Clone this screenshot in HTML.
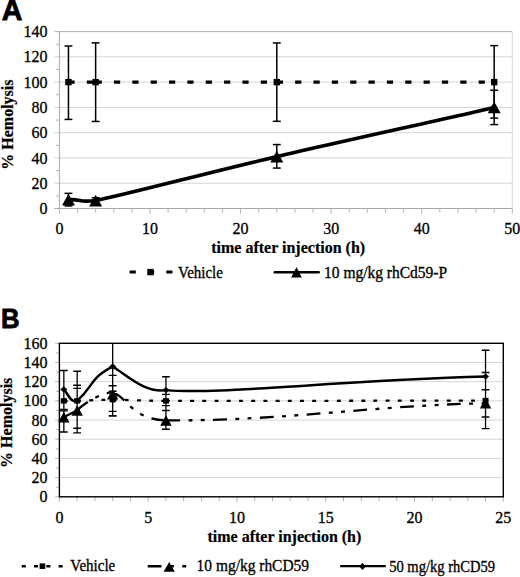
<!DOCTYPE html>
<html><head><meta charset="utf-8"><style>
html,body{margin:0;padding:0;background:#fff;}
body{width:520px;height:577px;overflow:hidden;}
svg{display:block;}
.lab{font-family:"Liberation Serif",serif;font-size:16px;fill:#000;stroke:#000;stroke-width:0.3px;}
.ttl{font-family:"Liberation Serif",serif;font-size:16px;font-weight:bold;fill:#000;stroke:#000;stroke-width:0.2px;}
.leg{font-family:"Liberation Serif",serif;font-size:15px;fill:#000;stroke:#000;stroke-width:0.3px;}
.pl{font-family:"Liberation Sans",sans-serif;font-size:28px;font-weight:bold;fill:#000;stroke:#000;stroke-width:0.8px;}
</style></head><body>
<svg width="520" height="577" viewBox="0 0 520 577">
<defs><clipPath id="cb"><rect x="59.4" y="343.3" width="443.9" height="153.5"/></clipPath></defs>
<text x="1.7" y="20.0" class="pl" style="font-size:28.6px">A</text>
<text transform="translate(0.9,328.1) scale(0.92,0.98)" class="pl">B</text>
<line x1="54.4" y1="183.23" x2="512.3" y2="183.23" stroke="#d4d4d4" stroke-width="1"/>
<line x1="54.4" y1="157.96" x2="512.3" y2="157.96" stroke="#d4d4d4" stroke-width="1"/>
<line x1="54.4" y1="132.69" x2="512.3" y2="132.69" stroke="#d4d4d4" stroke-width="1"/>
<line x1="54.4" y1="107.41" x2="512.3" y2="107.41" stroke="#d4d4d4" stroke-width="1"/>
<line x1="54.4" y1="82.14" x2="512.3" y2="82.14" stroke="#d4d4d4" stroke-width="1"/>
<line x1="54.4" y1="56.87" x2="512.3" y2="56.87" stroke="#d4d4d4" stroke-width="1"/>
<line x1="54.4" y1="31.6" x2="512.3" y2="31.6" stroke="#b0b0b0" stroke-width="1"/>
<line x1="56" y1="195.86" x2="59.4" y2="195.86" stroke="#b4b4b4" stroke-width="1"/>
<line x1="56" y1="170.59" x2="59.4" y2="170.59" stroke="#b4b4b4" stroke-width="1"/>
<line x1="56" y1="145.32" x2="59.4" y2="145.32" stroke="#b4b4b4" stroke-width="1"/>
<line x1="56" y1="120.05" x2="59.4" y2="120.05" stroke="#b4b4b4" stroke-width="1"/>
<line x1="56" y1="94.78" x2="59.4" y2="94.78" stroke="#b4b4b4" stroke-width="1"/>
<line x1="56" y1="69.51" x2="59.4" y2="69.51" stroke="#b4b4b4" stroke-width="1"/>
<line x1="56" y1="44.24" x2="59.4" y2="44.24" stroke="#b4b4b4" stroke-width="1"/>
<line x1="512.3" y1="31.6" x2="512.3" y2="208.5" stroke="#d4d4d4" stroke-width="1"/>
<line x1="59.4" y1="31.6" x2="59.4" y2="208.5" stroke="#a8a8a8" stroke-width="1"/>
<line x1="54.4" y1="208.5" x2="512.3" y2="208.5" stroke="#a8a8a8" stroke-width="1"/>
<line x1="59.4" y1="208.5" x2="59.4" y2="213.7" stroke="#b4b4b4" stroke-width="1"/>
<line x1="77.52" y1="208.5" x2="77.52" y2="212.7" stroke="#b4b4b4" stroke-width="1"/>
<line x1="95.63" y1="208.5" x2="95.63" y2="212.7" stroke="#b4b4b4" stroke-width="1"/>
<line x1="113.75" y1="208.5" x2="113.75" y2="212.7" stroke="#b4b4b4" stroke-width="1"/>
<line x1="131.86" y1="208.5" x2="131.86" y2="212.7" stroke="#b4b4b4" stroke-width="1"/>
<line x1="149.98" y1="208.5" x2="149.98" y2="213.7" stroke="#b4b4b4" stroke-width="1"/>
<line x1="168.1" y1="208.5" x2="168.1" y2="212.7" stroke="#b4b4b4" stroke-width="1"/>
<line x1="186.21" y1="208.5" x2="186.21" y2="212.7" stroke="#b4b4b4" stroke-width="1"/>
<line x1="204.33" y1="208.5" x2="204.33" y2="212.7" stroke="#b4b4b4" stroke-width="1"/>
<line x1="222.44" y1="208.5" x2="222.44" y2="212.7" stroke="#b4b4b4" stroke-width="1"/>
<line x1="240.56" y1="208.5" x2="240.56" y2="213.7" stroke="#b4b4b4" stroke-width="1"/>
<line x1="258.68" y1="208.5" x2="258.68" y2="212.7" stroke="#b4b4b4" stroke-width="1"/>
<line x1="276.79" y1="208.5" x2="276.79" y2="212.7" stroke="#b4b4b4" stroke-width="1"/>
<line x1="294.91" y1="208.5" x2="294.91" y2="212.7" stroke="#b4b4b4" stroke-width="1"/>
<line x1="313.02" y1="208.5" x2="313.02" y2="212.7" stroke="#b4b4b4" stroke-width="1"/>
<line x1="331.14" y1="208.5" x2="331.14" y2="213.7" stroke="#b4b4b4" stroke-width="1"/>
<line x1="349.26" y1="208.5" x2="349.26" y2="212.7" stroke="#b4b4b4" stroke-width="1"/>
<line x1="367.37" y1="208.5" x2="367.37" y2="212.7" stroke="#b4b4b4" stroke-width="1"/>
<line x1="385.49" y1="208.5" x2="385.49" y2="212.7" stroke="#b4b4b4" stroke-width="1"/>
<line x1="403.6" y1="208.5" x2="403.6" y2="212.7" stroke="#b4b4b4" stroke-width="1"/>
<line x1="421.72" y1="208.5" x2="421.72" y2="213.7" stroke="#b4b4b4" stroke-width="1"/>
<line x1="439.84" y1="208.5" x2="439.84" y2="212.7" stroke="#b4b4b4" stroke-width="1"/>
<line x1="457.95" y1="208.5" x2="457.95" y2="212.7" stroke="#b4b4b4" stroke-width="1"/>
<line x1="476.07" y1="208.5" x2="476.07" y2="212.7" stroke="#b4b4b4" stroke-width="1"/>
<line x1="494.18" y1="208.5" x2="494.18" y2="212.7" stroke="#b4b4b4" stroke-width="1"/>
<line x1="512.3" y1="208.5" x2="512.3" y2="213.7" stroke="#b4b4b4" stroke-width="1"/>
<text transform="translate(47.5,214.1) scale(1,1.1)" text-anchor="end" class="lab">0</text>
<text transform="translate(47.5,188.83) scale(1,1.1)" text-anchor="end" class="lab">20</text>
<text transform="translate(47.5,163.56) scale(1,1.1)" text-anchor="end" class="lab">40</text>
<text transform="translate(47.5,138.29) scale(1,1.1)" text-anchor="end" class="lab">60</text>
<text transform="translate(47.5,113.01) scale(1,1.1)" text-anchor="end" class="lab">80</text>
<text transform="translate(47.5,87.74) scale(1,1.1)" text-anchor="end" class="lab">100</text>
<text transform="translate(47.5,62.47) scale(1,1.1)" text-anchor="end" class="lab">120</text>
<text transform="translate(47.5,37.2) scale(1,1.1)" text-anchor="end" class="lab">140</text>
<text transform="translate(59.4,234.2) scale(1,1.1)" text-anchor="middle" class="lab">0</text>
<text transform="translate(149.98,234.2) scale(1,1.1)" text-anchor="middle" class="lab">10</text>
<text transform="translate(240.56,234.2) scale(1,1.1)" text-anchor="middle" class="lab">20</text>
<text transform="translate(331.14,234.2) scale(1,1.1)" text-anchor="middle" class="lab">30</text>
<text transform="translate(421.72,234.2) scale(1,1.1)" text-anchor="middle" class="lab">40</text>
<text transform="translate(512.3,234.2) scale(1,1.1)" text-anchor="middle" class="lab">50</text>
<line x1="68.46" y1="46" x2="68.46" y2="119.42" stroke="#000" stroke-width="1.5"/><line x1="64.51" y1="46" x2="72.41" y2="46" stroke="#000" stroke-width="1.5"/><line x1="64.51" y1="119.42" x2="72.41" y2="119.42" stroke="#000" stroke-width="1.5"/>
<line x1="95.63" y1="42.85" x2="95.63" y2="121.44" stroke="#000" stroke-width="1.5"/><line x1="91.68" y1="42.85" x2="99.58" y2="42.85" stroke="#000" stroke-width="1.5"/><line x1="91.68" y1="121.44" x2="99.58" y2="121.44" stroke="#000" stroke-width="1.5"/>
<line x1="276.79" y1="42.97" x2="276.79" y2="121.31" stroke="#000" stroke-width="1.5"/><line x1="272.84" y1="42.97" x2="280.74" y2="42.97" stroke="#000" stroke-width="1.5"/><line x1="272.84" y1="121.31" x2="280.74" y2="121.31" stroke="#000" stroke-width="1.5"/>
<line x1="494.18" y1="45.63" x2="494.18" y2="118.15" stroke="#000" stroke-width="1.5"/><line x1="490.23" y1="45.63" x2="498.13" y2="45.63" stroke="#000" stroke-width="1.5"/><line x1="490.23" y1="118.15" x2="498.13" y2="118.15" stroke="#000" stroke-width="1.5"/>
<line x1="68.46" y1="193.34" x2="68.46" y2="205.97" stroke="#000" stroke-width="1.5"/><line x1="64.51" y1="193.34" x2="72.41" y2="193.34" stroke="#000" stroke-width="1.5"/><line x1="64.51" y1="205.97" x2="72.41" y2="205.97" stroke="#000" stroke-width="1.5"/>
<line x1="95.63" y1="197.76" x2="95.63" y2="204.08" stroke="#000" stroke-width="1.5"/><line x1="91.68" y1="197.76" x2="99.58" y2="197.76" stroke="#000" stroke-width="1.5"/><line x1="91.68" y1="204.08" x2="99.58" y2="204.08" stroke="#000" stroke-width="1.5"/>
<line x1="276.79" y1="144.56" x2="276.79" y2="168.07" stroke="#000" stroke-width="1.5"/><line x1="272.84" y1="144.56" x2="280.74" y2="144.56" stroke="#000" stroke-width="1.5"/><line x1="272.84" y1="168.07" x2="280.74" y2="168.07" stroke="#000" stroke-width="1.5"/>
<line x1="494.18" y1="90.23" x2="494.18" y2="124.6" stroke="#000" stroke-width="1.5"/><line x1="490.23" y1="90.23" x2="498.13" y2="90.23" stroke="#000" stroke-width="1.5"/><line x1="490.23" y1="124.6" x2="498.13" y2="124.6" stroke="#000" stroke-width="1.5"/>
<line x1="68.46" y1="82.14" x2="95.63" y2="82.14" stroke="#000" stroke-width="3.2" stroke-dasharray="6.2 12.15"/>
<line x1="95.63" y1="82.14" x2="276.79" y2="82.14" stroke="#000" stroke-width="3.2" stroke-dasharray="6.2 12.15"/>
<line x1="276.79" y1="82.14" x2="494.18" y2="82.14" stroke="#000" stroke-width="3.2" stroke-dasharray="6.2 12.15"/>
<path d="M68.46,199.66 C83.48,199.27 76.81,202.66 95.63,200.54 C126.21,194.57 216.04,170.47 276.79,156.69 C307.93,148.82 462.13,115.13 494.18,107.41" fill="none" stroke="#000" stroke-width="3.6" stroke-linejoin="round"/>
<rect x="65.26" y="78.94" width="6.4" height="6.4" fill="#000"/>
<rect x="92.43" y="78.94" width="6.4" height="6.4" fill="#000"/>
<rect x="273.59" y="78.94" width="6.4" height="6.4" fill="#000"/>
<rect x="490.98" y="78.94" width="6.4" height="6.4" fill="#000"/>
<path d="M68.46,193.75 L74.96,205.56 L61.96,205.56Z" fill="#000"/>
<path d="M95.63,194.64 L102.13,206.44 L89.13,206.44Z" fill="#000"/>
<path d="M276.79,150.79 L283.29,162.59 L270.29,162.59Z" fill="#000"/>
<path d="M494.18,101.51 L500.68,113.31 L487.68,113.31Z" fill="#000"/>
<text x="288.2" y="253.1" text-anchor="middle" class="ttl">time after injection (h)</text>
<text transform="translate(13.3,124.6) rotate(-90)" text-anchor="middle" class="ttl">% Hemolysis</text>
<line x1="129.6" y1="272.1" x2="172.4" y2="272.1" stroke="#000" stroke-width="3" stroke-dasharray="6.2 12.15"/>
<rect x="147.3" y="268.9" width="6.4" height="6.4" fill="#000"/>
<text transform="translate(178,277.6) scale(1,1.07)" class="leg">Vehicle</text>
<line x1="274.8" y1="272.2" x2="318.6" y2="272.2" stroke="#000" stroke-width="2.6" stroke-linecap="round"/><path d="M296.5,267.1 L301.8,277.5 L291.2,277.5Z" fill="#000"/><text transform="translate(324,277.5) scale(1.035,1.07)" class="leg">10 mg/kg rhCd59-P</text>
<line x1="59.4" y1="477.61" x2="503.3" y2="477.61" stroke="#d4d4d4" stroke-width="1"/>
<line x1="59.4" y1="458.43" x2="503.3" y2="458.43" stroke="#d4d4d4" stroke-width="1"/>
<line x1="59.4" y1="439.24" x2="503.3" y2="439.24" stroke="#d4d4d4" stroke-width="1"/>
<line x1="59.4" y1="420.05" x2="503.3" y2="420.05" stroke="#d4d4d4" stroke-width="1"/>
<line x1="59.4" y1="400.86" x2="503.3" y2="400.86" stroke="#d4d4d4" stroke-width="1"/>
<line x1="59.4" y1="381.68" x2="503.3" y2="381.68" stroke="#d4d4d4" stroke-width="1"/>
<line x1="59.4" y1="362.49" x2="503.3" y2="362.49" stroke="#d4d4d4" stroke-width="1"/>
<line x1="55.2" y1="496.8" x2="59.4" y2="496.8" stroke="#b4b4b4" stroke-width="1"/>
<line x1="55.2" y1="477.61" x2="59.4" y2="477.61" stroke="#b4b4b4" stroke-width="1"/>
<line x1="55.2" y1="458.43" x2="59.4" y2="458.43" stroke="#b4b4b4" stroke-width="1"/>
<line x1="55.2" y1="439.24" x2="59.4" y2="439.24" stroke="#b4b4b4" stroke-width="1"/>
<line x1="55.2" y1="420.05" x2="59.4" y2="420.05" stroke="#b4b4b4" stroke-width="1"/>
<line x1="55.2" y1="400.86" x2="59.4" y2="400.86" stroke="#b4b4b4" stroke-width="1"/>
<line x1="55.2" y1="381.68" x2="59.4" y2="381.68" stroke="#b4b4b4" stroke-width="1"/>
<line x1="55.2" y1="362.49" x2="59.4" y2="362.49" stroke="#b4b4b4" stroke-width="1"/>
<line x1="55.2" y1="343.3" x2="59.4" y2="343.3" stroke="#b4b4b4" stroke-width="1"/>
<line x1="56" y1="487.21" x2="59.4" y2="487.21" stroke="#b4b4b4" stroke-width="1"/>
<line x1="56" y1="468.02" x2="59.4" y2="468.02" stroke="#b4b4b4" stroke-width="1"/>
<line x1="56" y1="448.83" x2="59.4" y2="448.83" stroke="#b4b4b4" stroke-width="1"/>
<line x1="56" y1="429.64" x2="59.4" y2="429.64" stroke="#b4b4b4" stroke-width="1"/>
<line x1="56" y1="410.46" x2="59.4" y2="410.46" stroke="#b4b4b4" stroke-width="1"/>
<line x1="56" y1="391.27" x2="59.4" y2="391.27" stroke="#b4b4b4" stroke-width="1"/>
<line x1="56" y1="372.08" x2="59.4" y2="372.08" stroke="#b4b4b4" stroke-width="1"/>
<line x1="56" y1="352.89" x2="59.4" y2="352.89" stroke="#b4b4b4" stroke-width="1"/>
<line x1="59.4" y1="496.8" x2="59.4" y2="501.8" stroke="#b4b4b4" stroke-width="1"/>
<line x1="77.16" y1="496.8" x2="77.16" y2="501.3" stroke="#b4b4b4" stroke-width="1"/>
<line x1="94.91" y1="496.8" x2="94.91" y2="501.3" stroke="#b4b4b4" stroke-width="1"/>
<line x1="112.67" y1="496.8" x2="112.67" y2="501.3" stroke="#b4b4b4" stroke-width="1"/>
<line x1="130.42" y1="496.8" x2="130.42" y2="501.3" stroke="#b4b4b4" stroke-width="1"/>
<line x1="148.18" y1="496.8" x2="148.18" y2="501.8" stroke="#b4b4b4" stroke-width="1"/>
<line x1="165.94" y1="496.8" x2="165.94" y2="501.3" stroke="#b4b4b4" stroke-width="1"/>
<line x1="183.69" y1="496.8" x2="183.69" y2="501.3" stroke="#b4b4b4" stroke-width="1"/>
<line x1="201.45" y1="496.8" x2="201.45" y2="501.3" stroke="#b4b4b4" stroke-width="1"/>
<line x1="219.2" y1="496.8" x2="219.2" y2="501.3" stroke="#b4b4b4" stroke-width="1"/>
<line x1="236.96" y1="496.8" x2="236.96" y2="501.8" stroke="#b4b4b4" stroke-width="1"/>
<line x1="254.72" y1="496.8" x2="254.72" y2="501.3" stroke="#b4b4b4" stroke-width="1"/>
<line x1="272.47" y1="496.8" x2="272.47" y2="501.3" stroke="#b4b4b4" stroke-width="1"/>
<line x1="290.23" y1="496.8" x2="290.23" y2="501.3" stroke="#b4b4b4" stroke-width="1"/>
<line x1="307.98" y1="496.8" x2="307.98" y2="501.3" stroke="#b4b4b4" stroke-width="1"/>
<line x1="325.74" y1="496.8" x2="325.74" y2="501.8" stroke="#b4b4b4" stroke-width="1"/>
<line x1="343.5" y1="496.8" x2="343.5" y2="501.3" stroke="#b4b4b4" stroke-width="1"/>
<line x1="361.25" y1="496.8" x2="361.25" y2="501.3" stroke="#b4b4b4" stroke-width="1"/>
<line x1="379.01" y1="496.8" x2="379.01" y2="501.3" stroke="#b4b4b4" stroke-width="1"/>
<line x1="396.76" y1="496.8" x2="396.76" y2="501.3" stroke="#b4b4b4" stroke-width="1"/>
<line x1="414.52" y1="496.8" x2="414.52" y2="501.8" stroke="#b4b4b4" stroke-width="1"/>
<line x1="432.28" y1="496.8" x2="432.28" y2="501.3" stroke="#b4b4b4" stroke-width="1"/>
<line x1="450.03" y1="496.8" x2="450.03" y2="501.3" stroke="#b4b4b4" stroke-width="1"/>
<line x1="467.79" y1="496.8" x2="467.79" y2="501.3" stroke="#b4b4b4" stroke-width="1"/>
<line x1="485.54" y1="496.8" x2="485.54" y2="501.3" stroke="#b4b4b4" stroke-width="1"/>
<line x1="503.3" y1="496.8" x2="503.3" y2="501.8" stroke="#b4b4b4" stroke-width="1"/>
<text transform="translate(47.5,502.4) scale(1,1.1)" text-anchor="end" class="lab">0</text>
<text transform="translate(47.5,483.21) scale(1,1.1)" text-anchor="end" class="lab">20</text>
<text transform="translate(47.5,464.03) scale(1,1.1)" text-anchor="end" class="lab">40</text>
<text transform="translate(47.5,444.84) scale(1,1.1)" text-anchor="end" class="lab">60</text>
<text transform="translate(47.5,425.65) scale(1,1.1)" text-anchor="end" class="lab">80</text>
<text transform="translate(47.5,406.46) scale(1,1.1)" text-anchor="end" class="lab">100</text>
<text transform="translate(47.5,387.28) scale(1,1.1)" text-anchor="end" class="lab">120</text>
<text transform="translate(47.5,368.09) scale(1,1.1)" text-anchor="end" class="lab">140</text>
<text transform="translate(47.5,348.9) scale(1,1.1)" text-anchor="end" class="lab">160</text>
<text transform="translate(59.4,522.8) scale(1,1.1)" text-anchor="middle" class="lab">0</text>
<text transform="translate(148.18,522.8) scale(1,1.1)" text-anchor="middle" class="lab">5</text>
<text transform="translate(236.96,522.8) scale(1,1.1)" text-anchor="middle" class="lab">10</text>
<text transform="translate(325.74,522.8) scale(1,1.1)" text-anchor="middle" class="lab">15</text>
<text transform="translate(414.52,522.8) scale(1,1.1)" text-anchor="middle" class="lab">20</text>
<text transform="translate(503.3,522.8) scale(1,1.1)" text-anchor="middle" class="lab">25</text>
<g clip-path="url(#cb)"><line x1="63.84" y1="370.45" x2="63.84" y2="432.04" stroke="#000" stroke-width="1.3"/><line x1="59.94" y1="370.45" x2="67.74" y2="370.45" stroke="#000" stroke-width="1.4"/><line x1="59.94" y1="409.5" x2="67.74" y2="409.5" stroke="#000" stroke-width="1.4"/><line x1="59.94" y1="410.84" x2="67.74" y2="410.84" stroke="#000" stroke-width="1.4"/><line x1="59.94" y1="432.04" x2="67.74" y2="432.04" stroke="#000" stroke-width="1.4"/><line x1="77.16" y1="371.22" x2="77.16" y2="432.91" stroke="#000" stroke-width="1.3"/><line x1="73.26" y1="371.22" x2="81.06" y2="371.22" stroke="#000" stroke-width="1.4"/><line x1="73.26" y1="385.22" x2="81.06" y2="385.22" stroke="#000" stroke-width="1.4"/><line x1="73.26" y1="388.39" x2="81.06" y2="388.39" stroke="#000" stroke-width="1.4"/><line x1="73.26" y1="428.2" x2="81.06" y2="428.2" stroke="#000" stroke-width="1.4"/><line x1="73.26" y1="432.91" x2="81.06" y2="432.91" stroke="#000" stroke-width="1.4"/><line x1="112.67" y1="328.91" x2="112.67" y2="415.83" stroke="#000" stroke-width="1.3"/><line x1="108.77" y1="375.34" x2="116.57" y2="375.34" stroke="#000" stroke-width="1.4"/><line x1="108.77" y1="385.7" x2="116.57" y2="385.7" stroke="#000" stroke-width="1.4"/><line x1="108.77" y1="391.27" x2="116.57" y2="391.27" stroke="#000" stroke-width="1.4"/><line x1="108.77" y1="411.42" x2="116.57" y2="411.42" stroke="#000" stroke-width="1.4"/><line x1="108.77" y1="415.83" x2="116.57" y2="415.83" stroke="#000" stroke-width="1.4"/><line x1="108.77" y1="415.83" x2="116.57" y2="415.83" stroke="#000" stroke-width="1.4"/><line x1="165.94" y1="376.69" x2="165.94" y2="429.26" stroke="#000" stroke-width="1.3"/><line x1="162.04" y1="376.69" x2="169.84" y2="376.69" stroke="#000" stroke-width="1.4"/><line x1="162.04" y1="394.34" x2="169.84" y2="394.34" stroke="#000" stroke-width="1.4"/><line x1="162.04" y1="405.66" x2="169.84" y2="405.66" stroke="#000" stroke-width="1.4"/><line x1="162.04" y1="410.55" x2="169.84" y2="410.55" stroke="#000" stroke-width="1.4"/><line x1="162.04" y1="429.26" x2="169.84" y2="429.26" stroke="#000" stroke-width="1.4"/><line x1="485.54" y1="350.21" x2="485.54" y2="428.59" stroke="#000" stroke-width="1.3"/><line x1="481.64" y1="350.21" x2="489.44" y2="350.21" stroke="#000" stroke-width="1.4"/><line x1="481.64" y1="372.47" x2="489.44" y2="372.47" stroke="#000" stroke-width="1.4"/><line x1="481.64" y1="389.73" x2="489.44" y2="389.73" stroke="#000" stroke-width="1.4"/><line x1="481.64" y1="416.98" x2="489.44" y2="416.98" stroke="#000" stroke-width="1.4"/><line x1="481.64" y1="428.59" x2="489.44" y2="428.59" stroke="#000" stroke-width="1.4"/></g>
<path d="M63.84,400.86C66.06,400.86 70.5,401.02 77.16,400.86" fill="none" stroke="#000" stroke-width="2.3" stroke-dasharray="3.9 8.3"/>
<path d="M77.16,400.86C85.29,400.67 97.87,399.71 112.67,399.71" fill="none" stroke="#000" stroke-width="2.3" stroke-dasharray="3.9 8.3"/>
<path d="M112.67,399.71C127.46,399.71 139.3,400.8 165.94,400.86" fill="none" stroke="#000" stroke-width="2.3" stroke-dasharray="3.9 8.3"/>
<path d="M165.94,400.86C228.08,401.01 432.28,400.62 485.54,400.57" fill="none" stroke="#000" stroke-width="2.3" stroke-dasharray="3.9 8.3"/>
<path d="M63.84,417.17C66.06,416.05 70.41,413.64 77.16,410.46" fill="none" stroke="#000" stroke-width="2.3" stroke-dasharray="13.8 8.45 3.9 8.45 3.9 8.45"/>
<path d="M77.16,410.46 C83.38,402.88 110.92,387.90 112.67,394.14" fill="none" stroke="#000" stroke-width="2.3" stroke-dasharray="13.8 8.45 3.9 8.45 3.9 8.45"/>
<path d="M112.67,394.14 C123.07,390.75 130.20,420.14 165.94,420.34" fill="none" stroke="#000" stroke-width="2.3" stroke-dasharray="13.8 8.45 3.9 8.45 3.9 8.45"/>
<path d="M165.94,420.34 C286.27,421.04 372.92,405.28 485.54,403.26" fill="none" stroke="#000" stroke-width="2.3" stroke-dasharray="13.8 8.45 3.9 8.45 3.9 8.45"/>
<path d="M63.84,389.45 C68.72,394.44 70.03,402.79 77.16,400.86 C93.83,386.48 89.40,378.13 112.67,366.52 C129.74,377.37 145.60,393.11 165.94,390.12 C217.24,394.97 327.50,381.15 485.54,376.59" fill="none" stroke="#000" stroke-width="2.5" stroke-linejoin="round"/>
<rect x="60.84" y="398.16" width="6" height="5.4" fill="#000"/>
<rect x="74.16" y="398.16" width="6" height="5.4" fill="#000"/>
<rect x="109.67" y="397.01" width="6" height="5.4" fill="#000"/>
<rect x="162.94" y="398.16" width="6" height="5.4" fill="#000"/>
<rect x="482.54" y="397.87" width="6" height="5.4" fill="#000"/>
<path d="M63.84,411.87 L69.54,422.47 L58.14,422.47Z" fill="#000"/>
<path d="M77.16,405.16 L82.86,415.76 L71.46,415.76Z" fill="#000"/>
<path d="M112.67,388.85 L118.37,399.45 L106.97,399.45Z" fill="#000"/>
<path d="M165.94,415.04 L171.64,425.64 L160.24,425.64Z" fill="#000"/>
<path d="M485.54,397.96 L491.24,408.56 L479.84,408.56Z" fill="#000"/>
<path d="M63.84,386.25 L67.34,389.45 L63.84,392.65 L60.34,389.45Z" fill="#000"/>
<path d="M77.16,397.66 L80.66,400.86 L77.16,404.06 L73.66,400.86Z" fill="#000"/>
<path d="M112.67,363.32 L116.17,366.52 L112.67,369.72 L109.17,366.52Z" fill="#000"/>
<path d="M165.94,386.92 L169.44,390.12 L165.94,393.32 L162.44,390.12Z" fill="#000"/>
<path d="M485.54,373.39 L489.04,376.59 L485.54,379.79 L482.04,376.59Z" fill="#000"/>
<rect x="59.4" y="343.3" width="443.9" height="153.5" fill="none" stroke="#000" stroke-width="1.4"/>
<text x="284.4" y="542.4" text-anchor="middle" class="ttl">time after injection (h)</text>
<text transform="translate(11.5,422.8) rotate(-90)" text-anchor="middle" class="ttl">% Hemolysis</text>
<line x1="21.7" y1="566.2" x2="64" y2="566.2" stroke="#000" stroke-width="2.4" stroke-dasharray="4.1 8.2"/>
<rect x="39.6" y="563.4" width="5.6" height="5.6" fill="#000"/>
<text transform="translate(70.3,570.5) scale(1,1.07)" class="leg">Vehicle</text>
<line x1="147.7" y1="566.2" x2="192" y2="566.2" stroke="#000" stroke-width="2.4" stroke-dasharray="13.8 8.45 3.9 8.45 3.9 8.45"/>
<path d="M169.2,562 L174.8,571.8 L163.6,571.8Z" fill="#000"/>
<text transform="translate(196.6,570.9) scale(1.03,1.07)" class="leg">10 mg/kg rhCD59</text>
<line x1="340.2" y1="566.2" x2="385.8" y2="566.2" stroke="#000" stroke-width="2.2"/>
<path d="M362.5,562.7 L365.7,566.4 L362.5,570.1 L359.3,566.4Z" fill="#000"/>
<text transform="translate(389.2,571.5) scale(0.97,1.07)" class="leg">50 mg/kg rhCD59</text>
</svg>
</body></html>
